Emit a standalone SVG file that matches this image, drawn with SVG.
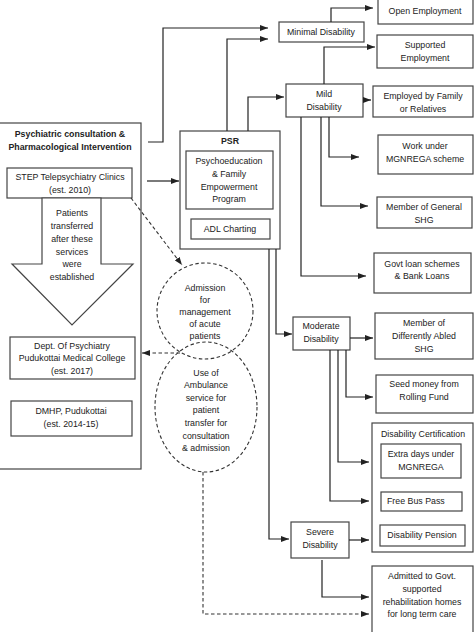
<svg xmlns="http://www.w3.org/2000/svg" width="474" height="632" viewBox="0 0 474 632">
<style>
.b{fill:#fff;stroke:#444;stroke-width:1.2}
.t{font-family:"Liberation Sans",Arial,sans-serif;font-size:8.8px;fill:#222;text-anchor:middle}
.bd{font-weight:bold}
.c{fill:none;stroke:#222;stroke-width:1.2}
.d{fill:none;stroke:#333;stroke-width:1.1;stroke-dasharray:3.5,2.5}
</style>
<defs>
<marker id="a" markerUnits="userSpaceOnUse" markerWidth="8" markerHeight="6" refX="8" refY="3" orient="auto"><path d="M0,0 L8,3 L0,6 z" fill="#222"/></marker>
</defs>
<rect width="474" height="632" fill="#fff"/>

<g id="left">
<rect class="b" x="-1" y="123" width="142" height="346"/>
<text class="t bd" x="70" y="137">Psychiatric consultation &amp;</text>
<text class="t bd" x="70" y="150">Pharmacological Intervention</text>
</g>
<g id="step">
<rect class="b" x="7" y="168" width="125" height="30"/>
<text class="t" x="70" y="180">STEP Telepsychiatry Clinics</text>
<text class="t" x="70" y="193">(est. 2010)</text>
</g>
<g id="bigarrow">
<polygon class="b" points="42,198 101,198 101,264 133,264 72,325 12,264 42,264"/>
<text class="t" x="72" y="216">Patients</text>
<text class="t" x="72" y="229">transferred</text>
<text class="t" x="72" y="242">after these</text>
<text class="t" x="72" y="255">services</text>
<text class="t" x="72" y="267">were</text>
<text class="t" x="72" y="280">established</text>
</g>
<g id="dept">
<rect class="b" x="10" y="337" width="125" height="42"/>
<text class="t" x="72" y="349">Dept. Of Psychiatry</text>
<text class="t" x="72" y="361">Pudukottai Medical College</text>
<text class="t" x="72" y="374">(est. 2017)</text>
</g>
<g id="dmhp">
<rect class="b" x="11" y="401" width="121" height="35"/>
<text class="t" x="71" y="414">DMHP, Pudukottai</text>
<text class="t" x="71" y="427">(est. 2014-15)</text>
</g>

<g id="psr">
<rect class="b" x="180" y="131" width="100" height="118"/>
<text class="t bd" x="230" y="144">PSR</text>
<rect class="b" x="186" y="151" width="87" height="58"/>
<text class="t" x="229" y="164">Psychoeducation</text>
<text class="t" x="229" y="177">&amp; Family</text>
<text class="t" x="229" y="190">Empowerment</text>
<text class="t" x="229" y="202">Program</text>
<rect class="b" x="191" y="219" width="79" height="20"/>
<text class="t" x="230" y="232">ADL Charting</text>
</g>

<g id="admission">
<ellipse class="d" cx="205" cy="311" rx="48" ry="48"/>
<text class="t" x="205" y="291">Admission</text>
<text class="t" x="205" y="303">for</text>
<text class="t" x="205" y="315">management</text>
<text class="t" x="205" y="327">of acute</text>
<text class="t" x="205" y="339">patients</text>
</g>
<g id="ambulance">
<ellipse class="d" cx="206" cy="407" rx="51" ry="65"/>
<text class="t" x="206" y="376">Use of</text>
<text class="t" x="206" y="388">Ambulance</text>
<text class="t" x="206" y="401">service for</text>
<text class="t" x="206" y="413">patient</text>
<text class="t" x="206" y="426">transfer for</text>
<text class="t" x="206" y="439">consultation</text>
<text class="t" x="206" y="451">&amp; admission</text>
</g>

<g id="minimal">
<rect class="b" x="279" y="22" width="85" height="20"/>
<text class="t" x="321" y="35">Minimal Disability</text>
</g>
<g id="open">
<rect class="b" x="378" y="-1" width="95" height="25"/>
<text class="t" x="425" y="14">Open Employment</text>
</g>
<g id="supported">
<rect class="b" x="377" y="35" width="96" height="33"/>
<text class="t" x="425" y="48">Supported</text>
<text class="t" x="425" y="61">Employment</text>
</g>
<g id="mild">
<rect class="b" x="286" y="84" width="77" height="33"/>
<text class="t" x="324" y="97">Mild</text>
<text class="t" x="324" y="110">Disability</text>
</g>
<g id="family">
<rect class="b" x="373" y="86" width="100" height="31"/>
<text class="t" x="423" y="99">Employed by Family</text>
<text class="t" x="423" y="112">or Relatives</text>
</g>
<g id="mgnrega">
<rect class="b" x="378" y="135" width="95" height="39"/>
<text class="t" x="425" y="149">Work under</text>
<text class="t" x="425" y="162">MGNREGA scheme</text>
</g>
<g id="shg">
<rect class="b" x="377" y="197" width="95" height="31"/>
<text class="t" x="424" y="210">Member of General</text>
<text class="t" x="424" y="223">SHG</text>
</g>
<g id="loan">
<rect class="b" x="374" y="253" width="97" height="40"/>
<text class="t" x="422" y="267">Govt loan schemes</text>
<text class="t" x="422" y="279">&amp; Bank Loans</text>
</g>
<g id="moderate">
<rect class="b" x="293" y="317" width="57" height="33"/>
<text class="t" x="321" y="329">Moderate</text>
<text class="t" x="321" y="342">Disability</text>
</g>
<g id="dashg">
<rect class="b" x="375" y="313" width="98" height="46"/>
<text class="t" x="424" y="326">Member of</text>
<text class="t" x="424" y="339">Differently Abled</text>
<text class="t" x="424" y="352">SHG</text>
</g>
<g id="seed">
<rect class="b" x="376" y="375" width="97" height="38"/>
<text class="t" x="424" y="387">Seed money from</text>
<text class="t" x="424" y="400">Rolling Fund</text>
</g>
<g id="cert">
<rect class="b" x="372" y="423" width="101" height="129"/>
<text class="t" x="423" y="437">Disability Certification</text>
<rect class="b" x="381" y="444" width="80" height="34"/>
<text class="t" x="421" y="457">Extra days under</text>
<text class="t" x="421" y="470">MGNREGA</text>
<rect class="b" x="381" y="492" width="81" height="19"/>
<text class="t" x="387" y="504" text-anchor="start" style="text-anchor:start">Free Bus Pass</text>
<rect class="b" x="380" y="525" width="85" height="21"/>
<text class="t" x="422" y="538">Disability Pension</text>
</g>
<g id="severe">
<rect class="b" x="291" y="522" width="58" height="36"/>
<text class="t" x="320" y="535">Severe</text>
<text class="t" x="320" y="548">Disability</text>
</g>
<g id="admitted">
<rect class="b" x="372" y="566" width="101" height="70"/>
<text class="t" x="422" y="579">Admitted to Govt.</text>
<text class="t" x="422" y="592">supported</text>
<text class="t" x="422" y="605">rehabilitation homes</text>
<text class="t" x="422" y="617">for long term care</text>
</g>

<g id="connectors">
<path class="c" d="M148,142 H163 V28 H268" marker-end="url(#a)"/>
<path class="c" d="M227,131 V39 H268" marker-end="url(#a)"/>
<path class="c" d="M248,131 V97 H284" marker-end="url(#a)"/>
<path class="c" d="M147,181 H179" marker-end="url(#a)"/>
<path class="c" d="M331,22 V8 H373" marker-end="url(#a)"/>
<path class="c" d="M324,84 V47 H375" marker-end="url(#a)"/>
<path class="c" d="M363,100 H371" marker-end="url(#a)"/>
<path class="c" d="M301,117 V276 H366" marker-end="url(#a)"/>
<path class="c" d="M321,117 V206 H368" marker-end="url(#a)"/>
<path class="c" d="M329,117 V157 H359" marker-end="url(#a)"/>
<path class="c" d="M276,249 V334 H292" marker-end="url(#a)"/>
<path class="c" d="M269,249 V539 H289" marker-end="url(#a)"/>
<path class="c" d="M350,338 H373" marker-end="url(#a)"/>
<path class="c" d="M346,350 V397 H373" marker-end="url(#a)"/>
<path class="c" d="M338,350 V462 H369" marker-end="url(#a)"/>
<path class="c" d="M330,350 V501 H369" marker-end="url(#a)"/>
<path class="c" d="M349,540 H369" marker-end="url(#a)"/>
<path class="c" d="M322,560 V597 H369" marker-end="url(#a)"/>
<path class="d" d="M131,198 L182,265" marker-end="url(#a)"/>
<path class="d" d="M180,353 H142" marker-end="url(#a)"/>
<path class="d" d="M203,472 V614 H369" marker-end="url(#a)"/>
</g>
</svg>
